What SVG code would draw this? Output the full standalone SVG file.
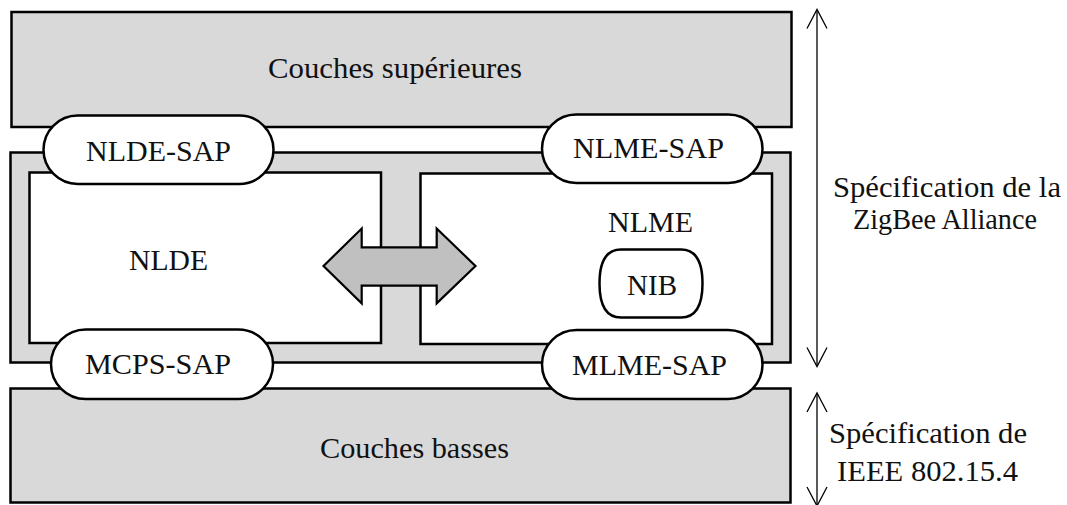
<svg xmlns="http://www.w3.org/2000/svg" width="1067" height="505" viewBox="0 0 1067 505">
<style>
.box{fill:#d9d9d9;stroke:#000;stroke-width:2.5}
.inner{fill:#fff;stroke:#000;stroke-width:2.5}
.sap{fill:#fff;stroke:#000;stroke-width:2.5}
text{font-family:'Liberation Serif','Times New Roman',serif;font-size:28.5px;fill:#111;text-anchor:middle}
.dim{fill:none;stroke:#000;stroke-width:1.3}
</style>
<rect width="1067" height="505" fill="#fff"/>
<g id="upper">
<rect class="box" x="11.5" y="12" width="780" height="115"/>
<text x="395" y="78" textLength="254" lengthAdjust="spacingAndGlyphs">Couches supérieures</text>
</g>
<g id="nwk">
<rect class="box" x="10.5" y="152.5" width="780" height="210"/>
</g>
<g id="lower">
<rect class="box" x="10.5" y="388.5" width="780" height="114"/>
<text x="414.5" y="458" textLength="189" lengthAdjust="spacingAndGlyphs">Couches basses</text>
</g>
<g id="nlde">
<rect class="inner" x="29.5" y="172.5" width="351.5" height="170.5"/>
<text x="168.5" y="270" textLength="79" lengthAdjust="spacingAndGlyphs">NLDE</text>
</g>
<g id="nlme">
<rect class="inner" x="420.5" y="173.5" width="351.5" height="170.5"/>
<text x="650.5" y="232" textLength="85" lengthAdjust="spacingAndGlyphs">NLME</text>
</g>
<g id="nib">
<path class="sap" d="M621,249.5 H681 C700,249.5 702.5,270 702.5,283.5 C702.5,297 700,317.5 681,317.5 H621 C602,317.5 599.5,297 599.5,283.5 C599.5,270 602,249.5 621,249.5 Z"/>
<text x="652" y="295" textLength="50" lengthAdjust="spacingAndGlyphs">NIB</text>
</g>
<g id="connectors">
<polygon points="323.5,266 361.7,228.5 361.7,247.3 436.7,247.3 436.7,228.5 475.5,266 436.7,303.3 436.7,285.7 361.7,285.7 361.7,303.3" fill="#c0c0c0" stroke="#000" stroke-width="2.2" stroke-linejoin="miter"/>
<line class="dim" x1="817" y1="10" x2="817" y2="366"/>
<path class="dim" d="M807,28.5 L817,9.5 L827,28.5 M807,347.5 L817,366.5 L827,347.5"/>
<line class="dim" x1="817" y1="394" x2="817" y2="505"/>
<path class="dim" d="M807,412 L817,393 L827,412 M807,487 L817,506 L827,487"/>
</g>
<g id="nlde-sap">
<rect class="sap" x="43.5" y="115.5" width="230" height="68.5" rx="34.25"/>
<text x="158.5" y="161" textLength="145" lengthAdjust="spacingAndGlyphs">NLDE-SAP</text>
</g>
<g id="nlme-sap">
<rect class="sap" x="542" y="114.5" width="220.5" height="68.5" rx="34.25"/>
<text x="648.5" y="158" textLength="151" lengthAdjust="spacingAndGlyphs">NLME-SAP</text>
</g>
<g id="mcps-sap">
<rect class="sap" x="51" y="329.5" width="222" height="69.5" rx="34.75"/>
<text x="158" y="374" textLength="146" lengthAdjust="spacingAndGlyphs">MCPS-SAP</text>
</g>
<g id="mlme-sap">
<rect class="sap" x="542" y="330" width="220.5" height="69" rx="34.5"/>
<text x="649.5" y="375" textLength="155" lengthAdjust="spacingAndGlyphs">MLME-SAP</text>
</g>
<g id="label-zigbee">
<text x="947" y="197" textLength="228" lengthAdjust="spacingAndGlyphs">Spécification de la</text>
<text x="945" y="229" textLength="184" lengthAdjust="spacingAndGlyphs">ZigBee Alliance</text>
</g>
<g id="label-ieee">
<text x="928" y="443" textLength="198" lengthAdjust="spacingAndGlyphs">Spécification de</text>
<text x="927.5" y="481" textLength="181" lengthAdjust="spacingAndGlyphs">IEEE 802.15.4</text>
</g>
</svg>
